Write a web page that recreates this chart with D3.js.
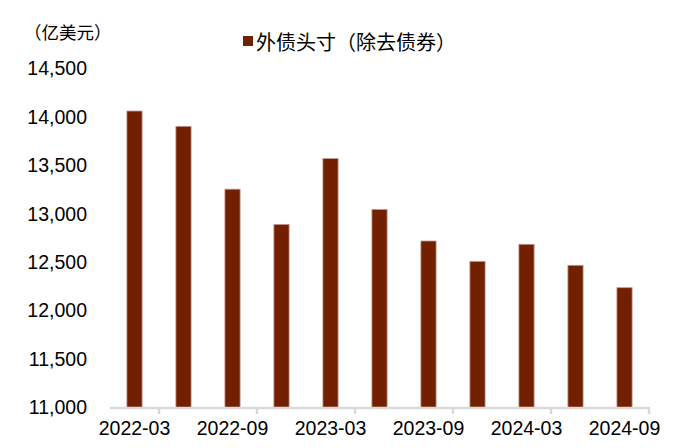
<!DOCTYPE html>
<html>
<head>
<meta charset="utf-8">
<script src="https://cdn.jsdelivr.net/npm/d3@7"></script>
<style>
  body { margin: 0; background: #fff; }
  text { font-family: "Liberation Sans", Arial, sans-serif; fill: #000; }
  .cjk { font-family: "Noto Sans CJK SC", sans-serif; }
</style>
</head>
<body>
<div class="container"></div>
<script>
const width = 674;
const height = 448;

// quarterly external debt position excl. bonds, 100m USD
const quarters = ['2022-03', '2022-06', '2022-09', '2022-12', '2023-03', '2023-06',
                  '2023-09', '2023-12', '2024-03', '2024-06', '2024-09'];
const debtValues = [14061, 13903, 13254, 12890, 13570, 13044, 12719, 12509, 12685, 12468, 12237];
const xLabels = ['2022-03', '2022-09', '2023-03', '2023-09', '2024-03', '2024-09'];
const yTicks = [11000, 11500, 12000, 12500, 13000, 13500, 14000, 14500];

const barColor = '#722000';

const svg = d3.select('.container')
    .append('svg')
    .attr('width', width)
    .attr('height', height);

const xScale = d3.scaleBand()
    .domain(quarters)
    .range([110, 649])
    .paddingInner(0.69)
    .paddingOuter(0.345);

const yScale = d3.scaleLinear()
    .domain([11000, 14500])
    .range([407.5, 68.5]);

// bars
svg.selectAll('rect.bar')
    .data(debtValues)
    .enter()
    .append('rect')
    .attr('class', 'bar')
    .attr('x', (d, i) => xScale(quarters[i]))
    .attr('y', d => yScale(d))
    .attr('width', xScale.bandwidth())
    .attr('height', d => yScale(11000) - yScale(d))
    .attr('fill', barColor)
    .attr('stroke', '#c09890')
    .attr('stroke-width', 0.8);

// y axis, labels only
const yAxis = svg.append('g')
    .attr('transform', 'translate(110,0)')
    .call(d3.axisLeft(yScale).tickValues(yTicks).tickSize(0).tickPadding(23).tickFormat(d3.format(',')));
yAxis.select('.domain').remove();
yAxis.selectAll('text')
    .style('font-family', '"Liberation Sans", Arial, sans-serif')
    .style('font-size', '19.5px')
    .attr('fill', '#000');

// x axis: labels every other quarter, ticks on boundaries
const xAxis = svg.append('g')
    .attr('transform', 'translate(0,407.5)')
    .call(d3.axisBottom(xScale).tickValues(xLabels).tickSize(0).tickPadding(14));
xAxis.select('.domain').remove();
xAxis.selectAll('text')
    .style('font-family', '"Liberation Sans", Arial, sans-serif')
    .style('font-size', '19.5px')
    .attr('fill', '#000');

const step = xScale.step();
const x0 = xScale.range()[0];
const tickPos = d3.range(1, quarters.length + 1, 2).map(i => x0 + step * i);

svg.append('line')
    .attr('x1', x0)
    .attr('x2', xScale.range()[1] + 1)
    .attr('y1', 408)
    .attr('y2', 408)
    .attr('stroke', '#d9d9d9')
    .attr('stroke-width', 2.5);

svg.selectAll('line.tick')
    .data(tickPos)
    .enter()
    .append('line')
    .attr('class', 'tick')
    .attr('x1', d => d)
    .attr('x2', d => d)
    .attr('y1', 408)
    .attr('y2', 414)
    .attr('stroke', '#d9d9d9')
    .attr('stroke-width', 2.5);

// unit label
svg.append('text')
    .attr('class', 'cjk')
    .attr('x', 24)
    .attr('y', 39)
    .style('font-size', '17.5px')
    .text('（亿美元）');

// legend
svg.append('rect')
    .attr('x', 243)
    .attr('y', 36)
    .attr('width', 10)
    .attr('height', 10)
    .attr('fill', barColor);

svg.append('text')
    .attr('class', 'cjk')
    .attr('x', 256)
    .attr('y', 50)
    .style('font-size', '20px')
    .text('外债头寸（除去债券）');
</script>
</body>
</html>
